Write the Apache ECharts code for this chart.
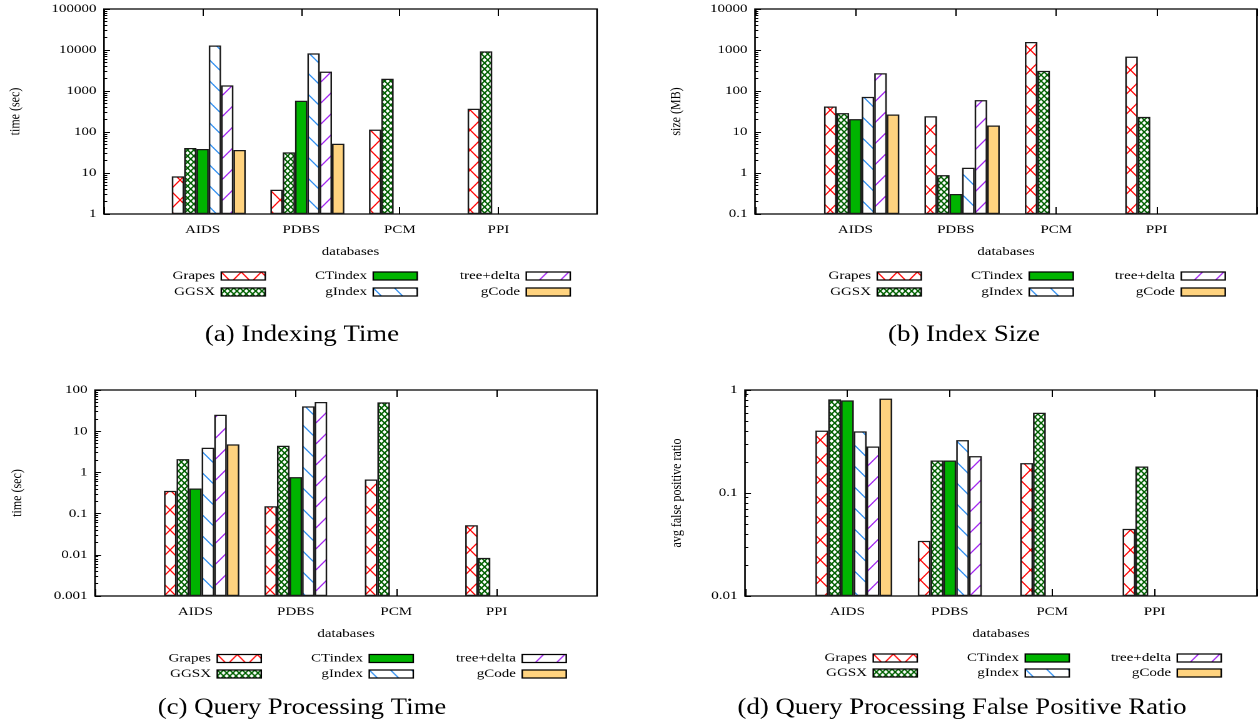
<!DOCTYPE html>
<html><head><meta charset="utf-8">
<script src="https://cdn.jsdelivr.net/npm/echarts@6/dist/echarts.min.js"></script>
<style>
html,body{margin:0;padding:0;background:#fff;overflow:hidden;width:1258px;height:725px}
#c{position:absolute;left:0;top:0;width:1006px;height:725px;transform:scaleX(1.2505);transform-origin:0 0;}
</style>
</head><body><div id="c"></div>
<script>
// ---------- data ----------
const categories = ['', 'AIDS', 'PDBS', 'PCM', 'PPI', ''];
const seriesNames = ['Grapes', 'GGSX', 'CTindex', 'gIndex', 'tree+delta', 'gCode'];
// rows follow seriesNames; columns: AIDS, PDBS, PCM, PPI
const indexingTime = [
  [8.3, 3.9, 114, 370],
  [40.7, 31.8, 1995, 9250],
  [38.5, 580, null, null],
  [12900, 8260, null, null],
  [1370, 2960, null, null],
  [36.4, 51.8, null, null]
];
const indexSize = [
  [42, 24.3, 1570, 690],
  [28.8, 0.89, 309, 23.4],
  [20.6, 0.307, null, null],
  [72, 1.34, null, null],
  [271, 59.7, null, null],
  [26.7, 14.4, null, null]
];
const queryTime = [
  [0.357, 0.151, 0.673, 0.052],
  [2.1, 4.43, 50.1, 0.0084],
  [0.407, 0.767, null, null],
  [3.96, 40, null, null],
  [25.1, 51, null, null],
  [4.78, null, null, null]
];
const falsePositive = [
  [0.403, 0.0343, 0.195, 0.0448],
  [0.811, 0.207, 0.602, 0.181],
  [0.793, 0.207, null, null],
  [0.396, 0.326, null, null],
  [0.283, 0.228, null, null],
  [0.824, null, null, null]
];
const ticksA = [1, 10, 100, 1000, 10000, 100000];
const ticksB = [0.1, 1, 10, 100, 1000, 10000];
const ticksC = [0.001, 0.01, 0.1, 1, 10, 100];
const ticksD = [0.01, 0.1, 1];
const yNames = ['time (sec)', 'size (MB)', 'time (sec)', 'avg false positive ratio'];
const xName = 'databases';
const captions = ['(a) Indexing Time', '(b) Index Size', '(c) Query Processing Time', '(d) Query Processing False Positive Ratio'];

// ---------- layout / style ----------
const CW = 1006, SX = 1258 / CW;
const sx = v => v / SX;
const FONT = 'Liberation Serif';
const DPR = 2;
const panels = [
  {data: indexingTime, ticks: ticksA, l: 104, r: 597, t: 9, b: 214, nameGap: 65, legX: [266, 418, 571], legY: [277, 293], cap: [302, 335]},
  {data: indexSize, ticks: ticksB, l: 755, r: 1257, t: 9, b: 214, nameGap: 57, legX: [922, 1074, 1226], legY: [277, 293], cap: [964, 335]},
  {data: queryTime, ticks: ticksC, l: 95, r: 597, t: 390, b: 596, nameGap: 56, legX: [262, 414, 567], legY: [659.5, 675], cap: [302, 708]},
  {data: falsePositive, ticks: ticksD, l: 745, r: 1257, t: 390, b: 596, nameGap: 48.5, legX: [918, 1070, 1222], legY: [659, 674], cap: [962, 708]}
];

function hatch(dirs, color, w, h, lw) {
  const c = document.createElement('canvas');
  c.width = Math.round(w * DPR); c.height = Math.round(h * DPR);
  const g = c.getContext('2d');
  g.scale(c.width / w, c.height / h);
  g.fillStyle = '#fff'; g.fillRect(0, 0, w, h);
  g.strokeStyle = color; g.lineWidth = lw;
  for (const d of dirs) {
    for (const o of [-w, 0, w]) {
      g.beginPath();
      if (d === '\\') { g.moveTo(o - w * 0.2, -h * 0.2); g.lineTo(o + w * 1.2, h * 1.2); }
      else { g.moveTo(o - w * 0.2, h * 1.2); g.lineTo(o + w * 1.2, -h * 0.2); }
      g.stroke();
    }
  }
  return {image: c, repeat: 'repeat', scaleX: w / c.width, scaleY: h / c.height};
}
const fills = [
  hatch(['\\', '/'], '#ff0000', 16, 20, 1.1),
  hatch(['\\', '/'], '#006000', 5, 6, 1.25),
  '#00b400',
  hatch(['\\'], '#2b8cf0', 17, 21, 1.1),
  hatch(['/'], '#a020f0', 17, 21, 1.1),
  '#ffd37f'
];

function minorTicks(dec) {
  const out = [];
  for (let i = 0; i < dec.length - 1; i++)
    for (let k = 2; k <= 9; k++) out.push(+(dec[i] * k).toPrecision(3));
  return out;
}

const txt = {fontFamily: FONT, fontSize: 12, color: '#000'};
const grid = [], xAxis = [], yAxis = [], series = [], legend = [];
panels.forEach((p, i) => {
  grid.push({left: sx(p.l), top: p.t, width: sx(p.r - p.l), height: p.b - p.t, show: true,
    borderColor: '#000', borderWidth: 1.3, backgroundColor: 'rgba(0,0,0,0)', containLabel: false, outerBoundsMode: 'none'});
  xAxis.push({gridIndex: i, type: 'category', data: categories, boundaryGap: false, position: 'bottom',
    axisLine: {show: false}, axisTick: {show: true, inside: true, length: 7, interval: 0, lineStyle: {color: '#000', width: 1}},
    axisLabel: Object.assign({interval: 0, margin: 10}, txt), splitLine: {show: false},
    name: xName, nameLocation: 'middle', nameGap: 32, nameTextStyle: txt});
  xAxis.push({gridIndex: i, type: 'category', data: categories, boundaryGap: false, position: 'top',
    axisLine: {show: false}, axisTick: {show: true, inside: true, length: 7, interval: 0, lineStyle: {color: '#000', width: 1}},
    axisLabel: {show: false}, splitLine: {show: false}});
  const mn = p.ticks[0], mx = p.ticks[p.ticks.length - 1];
  yAxis.push({gridIndex: i, type: 'log', logBase: 10, min: mn, max: mx, startValue: mn, position: 'left',
    axisLine: {show: false}, axisTick: {show: true, inside: true, length: 4.8, lineStyle: {color: '#000', width: 1}},
    axisLabel: Object.assign({margin: 6, formatter: v => String(+(+v).toPrecision(6))}, txt),
    splitLine: {show: false}, minorTick: {show: false},
    name: yNames[i], nameLocation: 'middle', nameGap: p.nameGap, nameTextStyle: txt});
  yAxis.push({gridIndex: i, type: 'log', logBase: 10, min: mn, max: mx, position: 'left',
    axisLine: {show: false}, axisTick: {show: true, inside: true, length: 2.6, customValues: minorTicks(p.ticks), lineStyle: {color: '#000', width: 1}},
    axisLabel: {show: false}, splitLine: {show: false}});
  series.push({type: 'bar', name: '_pad', xAxisIndex: 2 * i, yAxisIndex: 2 * i, data: categories.map(() => null),
    barGap: '0%', barCategoryGap: '12.5%', silent: true});
  seriesNames.forEach((n, s) => {
    series.push({type: 'bar', name: n, xAxisIndex: 2 * i, yAxisIndex: 2 * i, data: [null].concat(p.data[s], [null]),
      barGap: '0%', barCategoryGap: '12.5%', silent: true, emphasis: {disabled: true},
      itemStyle: {color: fills[s], borderColor: '#1a1a1a', borderWidth: 1.25}});
    const col = Math.floor(s / 2), row = s % 2;
    legend.push({data: [n], right: CW - sx(p.legX[col]), top: p.legY[row] - 7, padding: 0,
      itemWidth: sx(44), itemHeight: 8, align: 'right', icon: 'rect', selectedMode: false,
      textStyle: txt, itemStyle: {borderColor: '#000', borderWidth: 1.2}});
  });
});

const graphic = captions.map((t, i) => ({type: 'text', x: sx(panels[i].cap[0]), y: panels[i].cap[1], scaleX: 0.932, silent: true,
  style: {text: t, fontFamily: FONT, fontSize: 23, fill: '#000', align: 'center', verticalAlign: 'middle', textAlign: 'center', textVerticalAlign: 'middle'}}));

const chart = echarts.init(document.getElementById('c'), null, {renderer: 'canvas', devicePixelRatio: DPR});
chart.setOption({animation: false, backgroundColor: '#fff', grid, xAxis, yAxis, series, legend, graphic});
</script>
</body></html>
